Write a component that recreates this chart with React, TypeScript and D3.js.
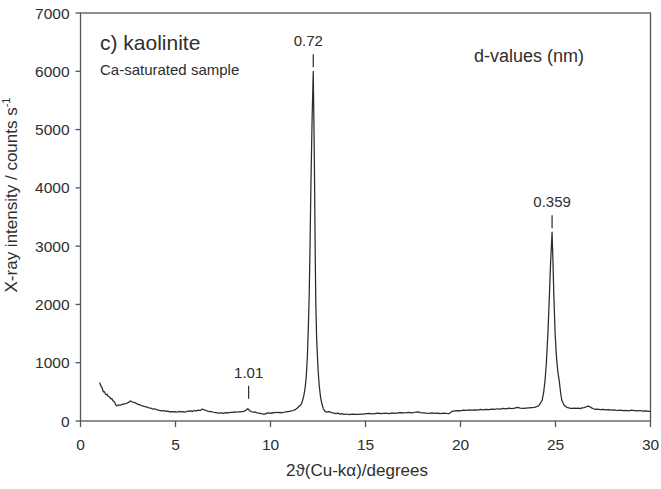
import React from "react";
import * as d3 from "d3";

// Diffraction trace: 2θ (degrees) and intensity (counts s⁻¹)
const twoTheta: number[] = [
  1.0, 1.05, 1.1, 1.15, 1.2, 1.25, 1.3, 1.35, 1.4, 1.45, 1.5, 1.55, 1.6, 1.65, 1.7, 1.75, 1.8, 1.85, 1.9, 1.95,
  2.0, 2.1, 2.2, 2.3, 2.4, 2.5, 2.6, 2.65, 2.7, 2.8, 2.9, 3.0, 3.1, 3.2, 3.3, 3.4, 3.5, 3.6, 3.7, 3.8, 3.9,
  4.0, 4.1, 4.2, 4.3, 4.4, 4.5, 4.6, 4.7, 4.8, 4.9, 5.0, 5.1, 5.2, 5.3, 5.4, 5.5, 5.6, 5.7, 5.8, 5.9,
  6.0, 6.1, 6.2, 6.3, 6.4, 6.5, 6.6, 6.7, 6.8, 6.9, 7.0, 7.1, 7.2, 7.3, 7.4, 7.5, 7.6, 7.7, 7.8, 7.9,
  8.0, 8.1, 8.2, 8.3, 8.4, 8.5, 8.6, 8.7, 8.8, 8.85, 8.9, 9.0, 9.1, 9.2, 9.3, 9.4, 9.5, 9.6, 9.7, 9.8, 9.9,
  10.0, 10.1, 10.2, 10.3, 10.4, 10.5, 10.6, 10.7, 10.8, 10.9, 11.0, 11.1, 11.2, 11.3, 11.4, 11.5, 11.6,
  11.68, 11.75, 11.82, 11.88, 11.94, 12.0, 12.04, 12.08, 12.13, 12.19, 12.25, 12.29, 12.32, 12.35, 12.38,
  12.43, 12.5, 12.56, 12.63, 12.7, 12.78, 12.88, 12.96,
  13.05, 13.15, 13.25, 13.35, 13.45, 13.55, 13.65, 13.75, 13.85, 14.0, 14.15, 14.3, 14.45, 14.6, 14.75, 14.9,
  15.05, 15.2, 15.35, 15.5, 15.65, 15.8, 15.95, 16.1, 16.25, 16.4, 16.55, 16.7, 16.85, 17.0, 17.15, 17.3,
  17.45, 17.6, 17.75, 17.9, 18.05, 18.2, 18.35, 18.5, 18.65, 18.8, 18.95, 19.1, 19.25, 19.4, 19.55, 19.7,
  19.85, 20.0, 20.15, 20.3, 20.45, 20.6, 20.75, 20.9, 21.05, 21.2, 21.35, 21.5, 21.65, 21.8, 21.95, 22.1,
  22.25, 22.4, 22.55, 22.7, 22.85, 23.0, 23.15, 23.3, 23.45, 23.6, 23.75, 23.9, 24.0, 24.1, 24.2,
  24.3, 24.38, 24.45, 24.52, 24.6, 24.67, 24.74, 24.82, 24.87, 24.92, 24.98, 25.05, 25.12, 25.2, 25.27, 25.33,
  25.42, 25.5, 25.6, 25.7, 25.8, 25.9, 26.0, 26.1, 26.2, 26.3, 26.4, 26.5, 26.6, 26.7, 26.8, 26.9,
  27.0, 27.1, 27.2, 27.35, 27.5, 27.65, 27.8, 27.95, 28.1, 28.25, 28.4, 28.55, 28.7, 28.85,
  29.0, 29.15, 29.3, 29.45, 29.6, 29.75, 29.9, 30.0,
];

const intensity: number[] = [
  660, 620, 590, 560, 500, 505, 470, 450, 460, 430, 420, 405, 380, 385, 350, 340, 320, 280, 260, 265,
  275, 270, 285, 295, 300, 315, 335, 345, 330, 320, 310, 290, 280, 265, 255, 245, 240, 225, 220, 205, 210,
  195, 185, 180, 175, 180, 165, 170, 158, 162, 155, 160, 150, 165, 158, 162, 150, 165, 170, 175, 165,
  180, 175, 185, 178, 205, 190, 180, 170, 162, 160, 150, 145, 140, 135, 142, 130, 140, 145, 138, 150,
  148, 155, 150, 158, 155, 160, 165, 185, 210, 200, 175, 160, 150, 155, 140, 135, 128, 120, 118, 135, 140,
  132, 145, 138, 150, 142, 148, 140, 150, 155, 160, 165, 172, 180, 195, 220, 250, 280,
  340, 430, 560, 750, 1100, 1700, 2200, 3000, 4100, 5200, 6000, 5000, 4100, 3000, 2100,
  1400, 900, 620, 420, 300, 210, 165, 150,
  160, 155, 140, 135, 128, 135, 118, 125, 115, 120, 110, 118, 112, 115, 120, 118,
  125, 130, 122, 128, 135, 125, 130, 133, 128, 138, 132, 140, 145, 138, 142, 148,
  140, 150, 158, 145, 140, 135, 132, 138, 130, 135, 128, 135, 130, 128, 165, 175,
  180, 175, 185, 182, 190, 185, 192, 188, 198, 192, 200, 195, 205, 198, 210, 205,
  215, 208, 222, 212, 220, 235, 222, 215, 220, 225, 230, 235, 245, 260, 300,
  360, 500, 700, 1000, 1500, 2075, 2700, 3240, 2700, 2075, 1500, 1100, 850, 680, 480, 360,
  290, 255, 235, 225, 218, 215, 222, 215, 220, 212, 225, 230, 240, 255, 245, 225,
  210, 200, 205, 195, 200, 190, 195, 188, 192, 180, 185, 178, 182, 175,
  185, 178, 172, 180, 168, 175, 165, 170,
];

// Reflections labelled with their d-spacing (nm)
const peakLabels: string[] = ["1.01", "0.72", "0.359"];
const peakTwoTheta: number[] = [8.85, 12.25, 24.82];
const peakCounts: number[] = [210, 6000, 3240];

const xTicks: number[] = [0, 5, 10, 15, 20, 25, 30];
const yTicks: number[] = [0, 1000, 2000, 3000, 4000, 5000, 6000, 7000];

const W = 661;
const H = 489;
const FONT = "'Liberation Sans', Arial, sans-serif";
const AXIS = "#555";
const INK = "#2b2b2b";
const TEXT = "#2e2e2e";

export default function App() {
  const x = d3.scaleLinear().domain([0, 30]).range([80.5, 650.5]);
  const y = d3.scaleLinear().domain([0, 7000]).range([421, 13]);

  const points: [number, number][] = twoTheta.map((t, i) => [t, intensity[i]]);
  const path = d3
    .line<[number, number]>()
    .x((d) => x(d[0]))
    .y((d) => y(d[1]))(points) as string;

  const [x0, x1] = x.range();
  const [yb, yt] = y.range();

  return (
    <svg
      width={W}
      height={H}
      style={{ position: "absolute", left: 0, top: 0, background: "#fff" }}
      fontFamily={FONT}
    >
      {/* frame */}
      <rect x={x0} y={yt} width={x1 - x0} height={yb - yt} fill="none" stroke={AXIS} strokeWidth={1.3} />

      {/* y axis ticks and labels */}
      {yTicks.map((v) => (
        <g key={"y" + v}>
          <line x1={x0 - 5} x2={x0} y1={y(v)} y2={y(v)} stroke={AXIS} strokeWidth={1.3} />
          <text x={x0 - 11} y={y(v)} dy="0.36em" textAnchor="end" fontSize={15.5} fill={TEXT}>
            {v}
          </text>
        </g>
      ))}

      {/* x axis ticks and labels */}
      {xTicks.map((v) => (
        <g key={"x" + v}>
          <line x1={x(v)} x2={x(v)} y1={yb} y2={yb + 6} stroke={AXIS} strokeWidth={1.3} />
          <text x={x(v)} y={yb + 29} textAnchor="middle" fontSize={15.5} fill={TEXT}>
            {v}
          </text>
        </g>
      ))}

      {/* axis titles */}
      <text x={357} y={476} textAnchor="middle" fontSize={17} fill={TEXT}>
        2ϑ(Cu-kα)/degrees
      </text>
      <text
        transform={`translate(17,${(yt + yb) / 2 - 22}) rotate(-90)`}
        textAnchor="middle"
        fontSize={17}
        fill={TEXT}
      >
        X-ray intensity / counts s
        <tspan dy={-7} fontSize={11}>-1</tspan>
      </text>

      {/* diffraction trace */}
      <path d={path} fill="none" stroke={INK} strokeWidth={1.25} strokeLinejoin="round" />

      {/* d-spacing markers */}
      {peakLabels.map((lab, i) => {
        const px = x(peakTwoTheta[i]);
        const top = y(peakCounts[i]);
        const gap = peakCounts[i] < 1000 ? 10 : 4;
        const tickBottom = top - gap;
        const tickTop = tickBottom - 13;
        const shift = peakCounts[i] > 5000 ? -5 : 0;
        return (
          <g key={lab}>
            <line x1={px} x2={px} y1={tickTop} y2={tickBottom} stroke={INK} strokeWidth={1.2} />
            <text x={px + shift} y={tickTop - 8} textAnchor="middle" fontSize={15} fill={TEXT}>
              {lab}
            </text>
          </g>
        );
      })}

      {/* panel text */}
      <text x={100} y={50} fontSize={21} fill={TEXT}>
        c) kaolinite
      </text>
      <text x={100} y={75} fontSize={15} fill={TEXT}>
        Ca-saturated sample
      </text>
      <text x={474} y={62} fontSize={18} fill={TEXT}>
        d-values (nm)
      </text>
    </svg>
  );
}
